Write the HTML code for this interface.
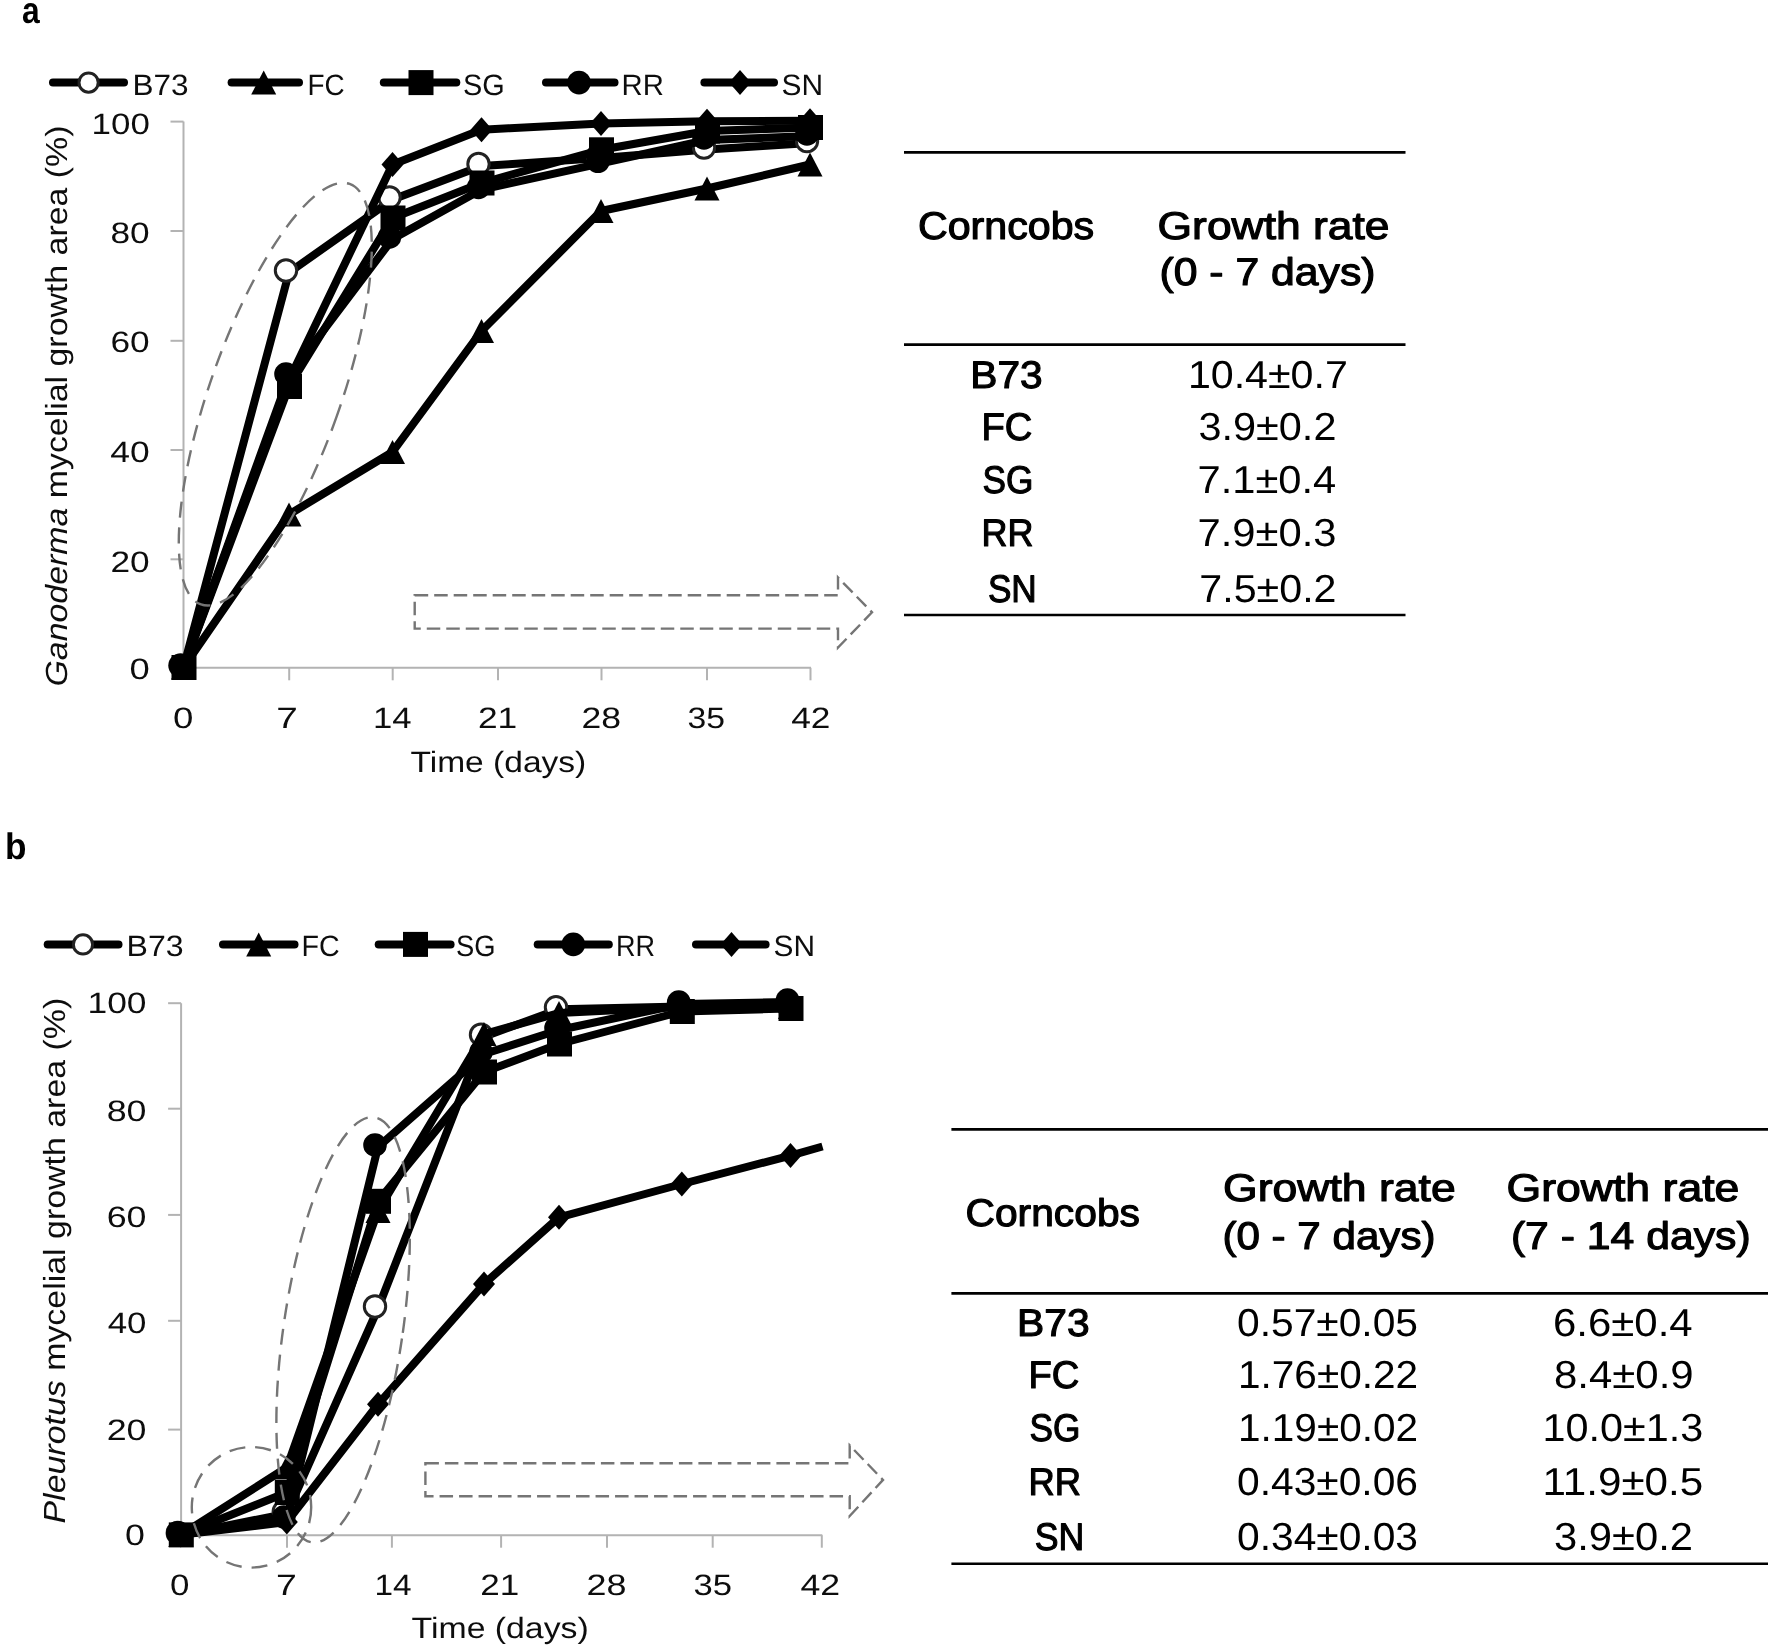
<!DOCTYPE html>
<html lang="en"><head><meta charset="utf-8"><title>Mycelial growth on corncobs</title>
<style>html,body{margin:0;padding:0;background:#fff}svg{display:block}</style></head>
<body>
<svg width="1770" height="1647" viewBox="0 0 1770 1647" font-family='"Liberation Sans", sans-serif' text-rendering="geometricPrecision">
<rect width="1770" height="1647" fill="#fff"/>
<defs><filter id="soft" filterUnits="userSpaceOnUse" x="0" y="0" width="1770" height="1647"><feGaussianBlur stdDeviation="0.7"/></filter></defs>
<g filter="url(#soft)">
<g stroke="#b3b3b3" stroke-width="2" fill="none"><path d="M183.5 121.6V667.8H811.0"/><path d="M289.2 667.8v12.5"/><path d="M392.7 667.8v12.5"/><path d="M498.0 667.8v12.5"/><path d="M601.5 667.8v12.5"/><path d="M707.0 667.8v12.5"/><path d="M810.5 667.8v12.5"/><path d="M183.5 121.6h-13"/><path d="M183.5 231.0h-13"/><path d="M183.5 340.8h-13"/><path d="M183.5 450.0h-13"/><path d="M183.5 559.3h-13"/></g>
<path d="M183.5 667.5L289.0 272.5L392.5 199.5L481.5 166.0L601.0 158.0L707.0 149.5L810.0 143.0" fill="none" stroke="#000" stroke-width="8.0" stroke-linejoin="round" stroke-linecap="butt"/><circle cx="180.5" cy="665.5" r="10.7" fill="#fff" stroke="#222" stroke-width="3"/><circle cx="286.0" cy="270.5" r="10.7" fill="#fff" stroke="#222" stroke-width="3"/><circle cx="389.5" cy="197.5" r="10.7" fill="#fff" stroke="#222" stroke-width="3"/><circle cx="478.5" cy="164.0" r="10.7" fill="#fff" stroke="#222" stroke-width="3"/><circle cx="598.0" cy="156.0" r="10.7" fill="#fff" stroke="#222" stroke-width="3"/><circle cx="704.0" cy="147.5" r="10.7" fill="#fff" stroke="#222" stroke-width="3"/><circle cx="807.0" cy="141.0" r="10.7" fill="#fff" stroke="#222" stroke-width="3"/>
<path d="M183.5 667.5L289.0 514.5L392.5 452.0L481.5 331.0L601.0 211.0L707.0 188.5L810.0 164.5" fill="none" stroke="#000" stroke-width="8.0" stroke-linejoin="round" stroke-linecap="butt"/><path d="M183.5 655.5L196.0 679.5L171.0 679.5Z" fill="#000"/><path d="M289.0 502.5L301.5 526.5L276.5 526.5Z" fill="#000"/><path d="M392.5 440.0L405.0 464.0L380.0 464.0Z" fill="#000"/><path d="M481.5 319.0L494.0 343.0L469.0 343.0Z" fill="#000"/><path d="M601.0 199.0L613.5 223.0L588.5 223.0Z" fill="#000"/><path d="M707.0 176.5L719.5 200.5L694.5 200.5Z" fill="#000"/><path d="M810.0 152.5L822.5 176.5L797.5 176.5Z" fill="#000"/>
<path d="M183.5 667.5L289.0 376.0L392.5 239.0L481.5 189.5L601.0 163.3L707.0 140.0L810.0 136.0" fill="none" stroke="#000" stroke-width="8.0" stroke-linejoin="round" stroke-linecap="butt"/><circle cx="180.5" cy="665.5" r="11.8" fill="#000"/><circle cx="286.0" cy="374.0" r="11.8" fill="#000"/><circle cx="389.5" cy="237.0" r="11.8" fill="#000"/><circle cx="478.5" cy="187.5" r="11.8" fill="#000"/><circle cx="598.0" cy="161.3" r="11.8" fill="#000"/><circle cx="704.0" cy="138.0" r="11.8" fill="#000"/><circle cx="807.0" cy="134.0" r="11.8" fill="#000"/>
<path d="M183.5 667.5L289.0 380.0L392.5 164.4L481.5 129.8L601.0 123.4L707.0 121.3L810.0 120.8" fill="none" stroke="#000" stroke-width="8.0" stroke-linejoin="round" stroke-linecap="butt"/><path d="M183.5 655.0L194.5 667.5L183.5 680.0L172.5 667.5Z" fill="#000"/><path d="M289.0 367.5L300.0 380.0L289.0 392.5L278.0 380.0Z" fill="#000"/><path d="M392.5 151.9L403.5 164.4L392.5 176.9L381.5 164.4Z" fill="#000"/><path d="M481.5 117.3L492.5 129.8L481.5 142.3L470.5 129.8Z" fill="#000"/><path d="M601.0 110.9L612.0 123.4L601.0 135.9L590.0 123.4Z" fill="#000"/><path d="M707.0 108.8L718.0 121.3L707.0 133.8L696.0 121.3Z" fill="#000"/><path d="M810.0 108.3L821.0 120.8L810.0 133.3L799.0 120.8Z" fill="#000"/>
<path d="M183.5 667.5L289.0 386.5L392.5 218.0L481.5 183.0L601.0 149.8L707.0 131.0L810.0 127.5" fill="none" stroke="#000" stroke-width="8.0" stroke-linejoin="round" stroke-linecap="butt"/><rect x="171.5" y="655.0" width="25" height="25" fill="#000"/><rect x="277.0" y="374.0" width="25" height="25" fill="#000"/><rect x="380.5" y="205.5" width="25" height="25" fill="#000"/><rect x="469.5" y="170.5" width="25" height="25" fill="#000"/><rect x="589.0" y="137.3" width="25" height="25" fill="#000"/><rect x="695.0" y="118.5" width="25" height="25" fill="#000"/><rect x="798.0" y="115.0" width="25" height="25" fill="#000"/>
<ellipse cx="275.3" cy="394.2" rx="65.3" ry="223.0" transform="rotate(19.47 275.3 394.2)" fill="none" stroke="#747474" stroke-width="2.4" stroke-dasharray="16 10" stroke-dashoffset="0"/>
<path d="M414.7 595.3H838.0V577.5L872.0 612.3L838.0 647.6V628.6H414.7Z" fill="none" stroke="#747474" stroke-width="2.4" stroke-dasharray="13.5 6"/>
<path d="M53.0 82.6H124.0" stroke="#000" stroke-width="8.0" stroke-linecap="round" fill="none"/><circle cx="88.6" cy="82.6" r="9.6" fill="#fff" stroke="#222" stroke-width="3"/><path d="M231.6 82.6H299.0" stroke="#000" stroke-width="8.0" stroke-linecap="round" fill="none"/><path d="M263.7 70.6L276.2 94.6L251.2 94.6Z" fill="#000"/><path d="M383.8 82.6H456.3" stroke="#000" stroke-width="8.0" stroke-linecap="round" fill="none"/><rect x="408.5" y="70.1" width="25" height="25" fill="#000"/><path d="M546.0 82.6H614.5" stroke="#000" stroke-width="8.0" stroke-linecap="round" fill="none"/><circle cx="579.0" cy="82.6" r="11.8" fill="#000"/><path d="M704.4 82.6H774.0" stroke="#000" stroke-width="8.0" stroke-linecap="round" fill="none"/><path d="M740.0 70.1L751.0 82.6L740.0 95.1L729.0 82.6Z" fill="#000"/>
<g stroke="#b3b3b3" stroke-width="2" fill="none"><path d="M181.1 1003.2V1535.2H822.3"/><path d="M287.0 1535.2v12.5"/><path d="M391.9 1535.2v12.5"/><path d="M501.1 1535.2v12.5"/><path d="M607.0 1535.2v12.5"/><path d="M712.7 1535.2v12.5"/><path d="M821.8 1535.2v12.5"/><path d="M181.1 1003.2h-13"/><path d="M181.1 1108.7h-13"/><path d="M181.1 1214.9h-13"/><path d="M181.1 1320.8h-13"/><path d="M181.1 1429.6h-13"/></g>
<path d="M180.8 1534.9L286.8 1513.6L378.0 1308.5L484.0 1036.7L559.0 1009.3L681.8 1006.5L790.5 1006.5" fill="none" stroke="#000" stroke-width="8.0" stroke-linejoin="round" stroke-linecap="butt"/><circle cx="177.8" cy="1532.9" r="10.7" fill="#fff" stroke="#222" stroke-width="3"/><circle cx="283.8" cy="1511.6" r="10.7" fill="#fff" stroke="#222" stroke-width="3"/><circle cx="375.0" cy="1306.5" r="10.7" fill="#fff" stroke="#222" stroke-width="3"/><circle cx="481.0" cy="1034.7" r="10.7" fill="#fff" stroke="#222" stroke-width="3"/><circle cx="556.0" cy="1007.3" r="10.7" fill="#fff" stroke="#222" stroke-width="3"/><circle cx="678.8" cy="1004.5" r="10.7" fill="#fff" stroke="#222" stroke-width="3"/><circle cx="787.5" cy="1004.5" r="10.7" fill="#fff" stroke="#222" stroke-width="3"/>
<path d="M180.8 1534.9L286.8 1467.5L378.0 1211.0L484.0 1034.0L559.0 1013.0L681.8 1007.0L790.5 1007.0" fill="none" stroke="#000" stroke-width="8.0" stroke-linejoin="round" stroke-linecap="butt"/><path d="M180.8 1522.9L193.3 1546.9L168.3 1546.9Z" fill="#000"/><path d="M286.8 1455.5L299.3 1479.5L274.3 1479.5Z" fill="#000"/><path d="M378.0 1199.0L390.5 1223.0L365.5 1223.0Z" fill="#000"/><path d="M484.0 1022.0L496.5 1046.0L471.5 1046.0Z" fill="#000"/><path d="M559.0 1001.0L571.5 1025.0L546.5 1025.0Z" fill="#000"/><path d="M681.8 995.0L694.3 1019.0L669.3 1019.0Z" fill="#000"/><path d="M790.5 995.0L803.0 1019.0L778.0 1019.0Z" fill="#000"/>
<path d="M180.8 1534.9L286.8 1519.0L378.0 1147.0L484.0 1054.0L559.0 1030.0L681.8 1004.0L790.5 1002.0" fill="none" stroke="#000" stroke-width="8.0" stroke-linejoin="round" stroke-linecap="butt"/><circle cx="177.8" cy="1532.9" r="11.8" fill="#000"/><circle cx="283.8" cy="1517.0" r="11.8" fill="#000"/><circle cx="375.0" cy="1145.0" r="11.8" fill="#000"/><circle cx="481.0" cy="1052.0" r="11.8" fill="#000"/><circle cx="556.0" cy="1028.0" r="11.8" fill="#000"/><circle cx="678.8" cy="1002.0" r="11.8" fill="#000"/><circle cx="787.5" cy="1000.0" r="11.8" fill="#000"/>
<path d="M180.8 1534.9L286.8 1522.0L378.0 1404.3L484.0 1284.0L559.0 1217.3L681.8 1184.0L790.5 1155.6L822.5 1146.5" fill="none" stroke="#000" stroke-width="8.0" stroke-linejoin="round" stroke-linecap="butt"/><path d="M180.8 1522.4L191.8 1534.9L180.8 1547.4L169.8 1534.9Z" fill="#000"/><path d="M286.8 1509.5L297.8 1522.0L286.8 1534.5L275.8 1522.0Z" fill="#000"/><path d="M378.0 1391.8L389.0 1404.3L378.0 1416.8L367.0 1404.3Z" fill="#000"/><path d="M484.0 1271.5L495.0 1284.0L484.0 1296.5L473.0 1284.0Z" fill="#000"/><path d="M559.0 1204.8L570.0 1217.3L559.0 1229.8L548.0 1217.3Z" fill="#000"/><path d="M681.8 1171.5L692.8 1184.0L681.8 1196.5L670.8 1184.0Z" fill="#000"/><path d="M790.5 1143.1L801.5 1155.6L790.5 1168.1L779.5 1155.6Z" fill="#000"/>
<path d="M180.8 1534.9L286.8 1492.5L378.0 1201.3L484.0 1072.0L559.0 1044.0L681.8 1011.5L790.5 1008.5" fill="none" stroke="#000" stroke-width="8.0" stroke-linejoin="round" stroke-linecap="butt"/><rect x="168.8" y="1522.4" width="25" height="25" fill="#000"/><rect x="274.8" y="1480.0" width="25" height="25" fill="#000"/><rect x="366.0" y="1188.8" width="25" height="25" fill="#000"/><rect x="472.0" y="1059.5" width="25" height="25" fill="#000"/><rect x="547.0" y="1031.5" width="25" height="25" fill="#000"/><rect x="669.8" y="999.0" width="25" height="25" fill="#000"/><rect x="778.5" y="996.0" width="25" height="25" fill="#000"/>
<ellipse cx="343.1" cy="1329.8" rx="59.5" ry="214.8" transform="rotate(8.41 343.1 1329.8)" fill="none" stroke="#747474" stroke-width="2.4" stroke-dasharray="16 10" stroke-dashoffset="0"/>
<ellipse cx="251.5" cy="1507.3" rx="59.7" ry="60.3" transform="rotate(0.00 251.5 1507.3)" fill="none" stroke="#747474" stroke-width="2.4" stroke-dasharray="16 10" stroke-dashoffset="0"/>
<path d="M425.4 1463.2H849.7V1445.4L883.0 1479.9L849.7 1516.0V1496.3H425.4Z" fill="none" stroke="#747474" stroke-width="2.4" stroke-dasharray="13.5 6"/>
<path d="M47.7 944.4H118.5" stroke="#000" stroke-width="8.0" stroke-linecap="round" fill="none"/><circle cx="83.0" cy="944.4" r="9.6" fill="#fff" stroke="#222" stroke-width="3"/><path d="M223.0 944.4H294.5" stroke="#000" stroke-width="8.0" stroke-linecap="round" fill="none"/><path d="M258.7 932.4L271.2 956.4L246.2 956.4Z" fill="#000"/><path d="M378.7 944.4H450.6" stroke="#000" stroke-width="8.0" stroke-linecap="round" fill="none"/><rect x="403.0" y="931.9" width="25" height="25" fill="#000"/><path d="M537.7 944.4H608.8" stroke="#000" stroke-width="8.0" stroke-linecap="round" fill="none"/><circle cx="573.3" cy="944.4" r="11.8" fill="#000"/><path d="M696.0 944.4H765.6" stroke="#000" stroke-width="8.0" stroke-linecap="round" fill="none"/><path d="M731.5 931.9L742.5 944.4L731.5 956.9L720.5 944.4Z" fill="#000"/>
<g stroke="#000" stroke-width="2.6">
<path d="M904 152.4H1405.5"/>
<path d="M904 344.6H1405.5"/>
<path d="M904 615.0H1405.5"/>
<path d="M951.4 1129.4H1768"/>
<path d="M951.4 1293.4H1768"/>
<path d="M951.4 1563.8H1768"/>
</g>
<text id="pa" x="22.10" y="22.60" font-size="37.00" fill="#000" font-weight="700" textLength="17.71" lengthAdjust="spacingAndGlyphs">a</text>
<text id="pb" x="4.90" y="859.00" font-size="37.00" fill="#000" font-weight="700" textLength="21.50" lengthAdjust="spacingAndGlyphs">b</text>
<text id="la0" x="132.50" y="95.00" font-size="29.50" fill="#111" textLength="56.08" lengthAdjust="spacingAndGlyphs">B73</text>
<text id="la1" x="307.50" y="95.00" font-size="29.50" fill="#111" textLength="37.12" lengthAdjust="spacingAndGlyphs">FC</text>
<text id="la2" x="463.00" y="95.00" font-size="29.50" fill="#111" textLength="41.70" lengthAdjust="spacingAndGlyphs">SG</text>
<text id="la3" x="621.50" y="95.00" font-size="29.50" fill="#111" textLength="42.30" lengthAdjust="spacingAndGlyphs">RR</text>
<text id="la4" x="781.50" y="95.00" font-size="29.50" fill="#111" textLength="41.60" lengthAdjust="spacingAndGlyphs">SN</text>
<text id="lb0" x="126.50" y="956.00" font-size="29.50" fill="#111" textLength="57.08" lengthAdjust="spacingAndGlyphs">B73</text>
<text id="lb1" x="301.50" y="956.00" font-size="29.50" fill="#111" textLength="38.12" lengthAdjust="spacingAndGlyphs">FC</text>
<text id="lb2" x="456.00" y="956.00" font-size="29.50" fill="#111" textLength="39.56" lengthAdjust="spacingAndGlyphs">SG</text>
<text id="lb3" x="616.00" y="956.00" font-size="29.50" fill="#111" textLength="39.02" lengthAdjust="spacingAndGlyphs">RR</text>
<text id="lb4" x="773.50" y="956.00" font-size="29.50" fill="#111" textLength="41.48" lengthAdjust="spacingAndGlyphs">SN</text>
<text id="ya0" x="91.60" y="133.70" font-size="29.50" fill="#111" textLength="58.28" lengthAdjust="spacingAndGlyphs">100</text>
<text id="ya1" x="110.50" y="243.00" font-size="29.50" fill="#111" textLength="39.23" lengthAdjust="spacingAndGlyphs">80</text>
<text id="ya2" x="110.50" y="352.40" font-size="29.50" fill="#111" textLength="39.23" lengthAdjust="spacingAndGlyphs">60</text>
<text id="ya3" x="110.30" y="462.00" font-size="29.50" fill="#111" textLength="39.41" lengthAdjust="spacingAndGlyphs">40</text>
<text id="ya4" x="110.50" y="571.50" font-size="29.50" fill="#111" textLength="39.23" lengthAdjust="spacingAndGlyphs">20</text>
<text id="ya5" x="129.50" y="679.40" font-size="29.50" fill="#111" textLength="20.25" lengthAdjust="spacingAndGlyphs">0</text>
<text id="yb0" x="87.50" y="1013.00" font-size="29.50" fill="#111" textLength="59.07" lengthAdjust="spacingAndGlyphs">100</text>
<text id="yb1" x="106.70" y="1120.90" font-size="29.50" fill="#111" textLength="39.86" lengthAdjust="spacingAndGlyphs">80</text>
<text id="yb2" x="106.70" y="1226.70" font-size="29.50" fill="#111" textLength="39.84" lengthAdjust="spacingAndGlyphs">60</text>
<text id="yb3" x="107.70" y="1333.40" font-size="29.50" fill="#111" textLength="38.79" lengthAdjust="spacingAndGlyphs">40</text>
<text id="yb4" x="106.70" y="1439.70" font-size="29.50" fill="#111" textLength="39.84" lengthAdjust="spacingAndGlyphs">20</text>
<text id="yb5" x="125.00" y="1545.20" font-size="29.50" fill="#111" textLength="19.90" lengthAdjust="spacingAndGlyphs">0</text>
<text id="xa0" x="172.90" y="728.40" font-size="29.50" fill="#111" textLength="20.40" lengthAdjust="spacingAndGlyphs">0</text>
<text id="xa1" x="276.30" y="728.40" font-size="29.50" fill="#111" textLength="21.58" lengthAdjust="spacingAndGlyphs">7</text>
<text id="xa2" x="373.00" y="728.40" font-size="29.50" fill="#111" textLength="38.56" lengthAdjust="spacingAndGlyphs">14</text>
<text id="xa3" x="478.00" y="728.40" font-size="29.50" fill="#111" textLength="39.26" lengthAdjust="spacingAndGlyphs">21</text>
<text id="xa4" x="581.50" y="728.40" font-size="29.50" fill="#111" textLength="39.56" lengthAdjust="spacingAndGlyphs">28</text>
<text id="xa5" x="687.50" y="728.40" font-size="29.50" fill="#111" textLength="37.50" lengthAdjust="spacingAndGlyphs">35</text>
<text id="xa6" x="791.20" y="728.40" font-size="29.50" fill="#111" textLength="39.25" lengthAdjust="spacingAndGlyphs">42</text>
<text id="xb0" x="170.00" y="1595.00" font-size="29.50" fill="#111" textLength="19.45" lengthAdjust="spacingAndGlyphs">0</text>
<text id="xb1" x="276.10" y="1595.00" font-size="29.50" fill="#111" textLength="20.84" lengthAdjust="spacingAndGlyphs">7</text>
<text id="xb2" x="374.40" y="1595.00" font-size="29.50" fill="#111" textLength="37.06" lengthAdjust="spacingAndGlyphs">14</text>
<text id="xb3" x="480.20" y="1595.00" font-size="29.50" fill="#111" textLength="38.99" lengthAdjust="spacingAndGlyphs">21</text>
<text id="xb4" x="586.60" y="1595.00" font-size="29.50" fill="#111" textLength="39.99" lengthAdjust="spacingAndGlyphs">28</text>
<text id="xb5" x="693.50" y="1595.00" font-size="29.50" fill="#111" textLength="38.53" lengthAdjust="spacingAndGlyphs">35</text>
<text id="xb6" x="800.50" y="1595.00" font-size="29.50" fill="#111" textLength="39.70" lengthAdjust="spacingAndGlyphs">42</text>
<text id="ta" x="410.50" y="772.20" font-size="29.50" fill="#111" textLength="175.72" lengthAdjust="spacingAndGlyphs">Time (days)</text>
<text id="tb" x="411.60" y="1637.50" font-size="29.50" fill="#111" textLength="177.12" lengthAdjust="spacingAndGlyphs">Time (days)</text>
<text id="va" transform="translate(67.00 686.50) rotate(-90)" xml:space="preserve" font-size="30.50" fill="#111" textLength="561.00" lengthAdjust="spacingAndGlyphs"><tspan font-style="italic">Ganoderma</tspan> mycelial growth area (%)</text>
<text id="vb" transform="translate(65.00 1523.50) rotate(-90)" xml:space="preserve" font-size="30.50" fill="#111" textLength="525.80" lengthAdjust="spacingAndGlyphs"><tspan font-style="italic">Pleurotus</tspan> mycelial growth area (%)</text>
<text id="a_h1" x="917.90" y="238.80" font-size="38.50" fill="#000" stroke="#000" stroke-width="1.15" stroke-linejoin="round" textLength="176.29" lengthAdjust="spacingAndGlyphs">Corncobs</text>
<text id="a_h2" x="1157.60" y="238.80" font-size="38.50" fill="#000" stroke="#000" stroke-width="1.15" stroke-linejoin="round" textLength="231.87" lengthAdjust="spacingAndGlyphs">Growth rate</text>
<text id="a_h3" x="1159.50" y="285.40" font-size="38.50" fill="#000" stroke="#000" stroke-width="1.15" stroke-linejoin="round" textLength="216.03" lengthAdjust="spacingAndGlyphs">(0 - 7 days)</text>
<text id="a_n0" x="970.30" y="387.50" font-size="38.50" fill="#000" stroke="#000" stroke-width="1.15" stroke-linejoin="round" textLength="72.30" lengthAdjust="spacingAndGlyphs">B73</text>
<text id="a_v0" x="1187.90" y="387.50" font-size="39.00" fill="#000" textLength="159.96" lengthAdjust="spacingAndGlyphs">10.4±0.7</text>
<text id="a_n1" x="981.50" y="440.00" font-size="38.50" fill="#000" stroke="#000" stroke-width="1.15" stroke-linejoin="round" textLength="50.87" lengthAdjust="spacingAndGlyphs">FC</text>
<text id="a_v1" x="1198.50" y="440.00" font-size="39.00" fill="#000" textLength="137.93" lengthAdjust="spacingAndGlyphs">3.9±0.2</text>
<text id="a_n2" x="982.50" y="493.00" font-size="38.50" fill="#000" stroke="#000" stroke-width="1.15" stroke-linejoin="round" textLength="50.84" lengthAdjust="spacingAndGlyphs">SG</text>
<text id="a_v2" x="1197.50" y="493.00" font-size="39.00" fill="#000" textLength="138.66" lengthAdjust="spacingAndGlyphs">7.1±0.4</text>
<text id="a_n3" x="981.50" y="546.00" font-size="38.50" fill="#000" stroke="#000" stroke-width="1.15" stroke-linejoin="round" textLength="51.95" lengthAdjust="spacingAndGlyphs">RR</text>
<text id="a_v3" x="1197.50" y="546.00" font-size="39.00" fill="#000" textLength="139.03" lengthAdjust="spacingAndGlyphs">7.9±0.3</text>
<text id="a_n4" x="987.90" y="602.00" font-size="38.50" fill="#000" stroke="#000" stroke-width="1.15" stroke-linejoin="round" textLength="48.88" lengthAdjust="spacingAndGlyphs">SN</text>
<text id="a_v4" x="1199.30" y="602.00" font-size="39.00" fill="#000" textLength="137.23" lengthAdjust="spacingAndGlyphs">7.5±0.2</text>
<text id="b_h1" x="965.50" y="1225.80" font-size="38.50" fill="#000" stroke="#000" stroke-width="1.15" stroke-linejoin="round" textLength="174.43" lengthAdjust="spacingAndGlyphs">Corncobs</text>
<text id="b_h2" x="1223.10" y="1201.00" font-size="38.50" fill="#000" stroke="#000" stroke-width="1.15" stroke-linejoin="round" textLength="232.60" lengthAdjust="spacingAndGlyphs">Growth rate</text>
<text id="b_h3" x="1222.40" y="1248.60" font-size="38.50" fill="#000" stroke="#000" stroke-width="1.15" stroke-linejoin="round" textLength="213.14" lengthAdjust="spacingAndGlyphs">(0 - 7 days)</text>
<text id="b_h4" x="1506.50" y="1201.00" font-size="38.50" fill="#000" stroke="#000" stroke-width="1.15" stroke-linejoin="round" textLength="232.86" lengthAdjust="spacingAndGlyphs">Growth rate</text>
<text id="b_h5" x="1510.90" y="1248.60" font-size="38.50" fill="#000" stroke="#000" stroke-width="1.15" stroke-linejoin="round" textLength="239.73" lengthAdjust="spacingAndGlyphs">(7 - 14 days)</text>
<text id="b_n0" x="1017.10" y="1336.00" font-size="38.50" fill="#000" stroke="#000" stroke-width="1.15" stroke-linejoin="round" textLength="72.55" lengthAdjust="spacingAndGlyphs">B73</text>
<text id="b_v0" x="1237.00" y="1336.00" font-size="39.00" fill="#000" textLength="181.00" lengthAdjust="spacingAndGlyphs">0.57±0.05</text>
<text id="b_w0" x="1553.00" y="1336.00" font-size="39.00" fill="#000" textLength="139.64" lengthAdjust="spacingAndGlyphs">6.6±0.4</text>
<text id="b_n1" x="1028.50" y="1388.20" font-size="38.50" fill="#000" stroke="#000" stroke-width="1.15" stroke-linejoin="round" textLength="50.87" lengthAdjust="spacingAndGlyphs">FC</text>
<text id="b_v1" x="1238.00" y="1388.20" font-size="39.00" fill="#000" textLength="180.06" lengthAdjust="spacingAndGlyphs">1.76±0.22</text>
<text id="b_w1" x="1554.00" y="1388.20" font-size="39.00" fill="#000" textLength="139.66" lengthAdjust="spacingAndGlyphs">8.4±0.9</text>
<text id="b_n2" x="1029.50" y="1441.40" font-size="38.50" fill="#000" stroke="#000" stroke-width="1.15" stroke-linejoin="round" textLength="50.84" lengthAdjust="spacingAndGlyphs">SG</text>
<text id="b_v2" x="1238.00" y="1441.40" font-size="39.00" fill="#000" textLength="180.06" lengthAdjust="spacingAndGlyphs">1.19±0.02</text>
<text id="b_w2" x="1542.50" y="1441.40" font-size="39.00" fill="#000" textLength="160.70" lengthAdjust="spacingAndGlyphs">10.0±1.3</text>
<text id="b_n3" x="1028.50" y="1494.50" font-size="38.50" fill="#000" stroke="#000" stroke-width="1.15" stroke-linejoin="round" textLength="52.58" lengthAdjust="spacingAndGlyphs">RR</text>
<text id="b_v3" x="1237.00" y="1494.50" font-size="39.00" fill="#000" textLength="181.00" lengthAdjust="spacingAndGlyphs">0.43±0.06</text>
<text id="b_w3" x="1542.50" y="1494.50" font-size="39.00" fill="#000" textLength="160.70" lengthAdjust="spacingAndGlyphs">11.9±0.5</text>
<text id="b_n4" x="1034.70" y="1549.60" font-size="38.50" fill="#000" stroke="#000" stroke-width="1.15" stroke-linejoin="round" textLength="49.54" lengthAdjust="spacingAndGlyphs">SN</text>
<text id="b_v4" x="1237.00" y="1549.60" font-size="39.00" fill="#000" textLength="181.00" lengthAdjust="spacingAndGlyphs">0.34±0.03</text>
<text id="b_w4" x="1554.00" y="1549.60" font-size="39.00" fill="#000" textLength="139.03" lengthAdjust="spacingAndGlyphs">3.9±0.2</text>
</g>
</svg>
</body></html>
